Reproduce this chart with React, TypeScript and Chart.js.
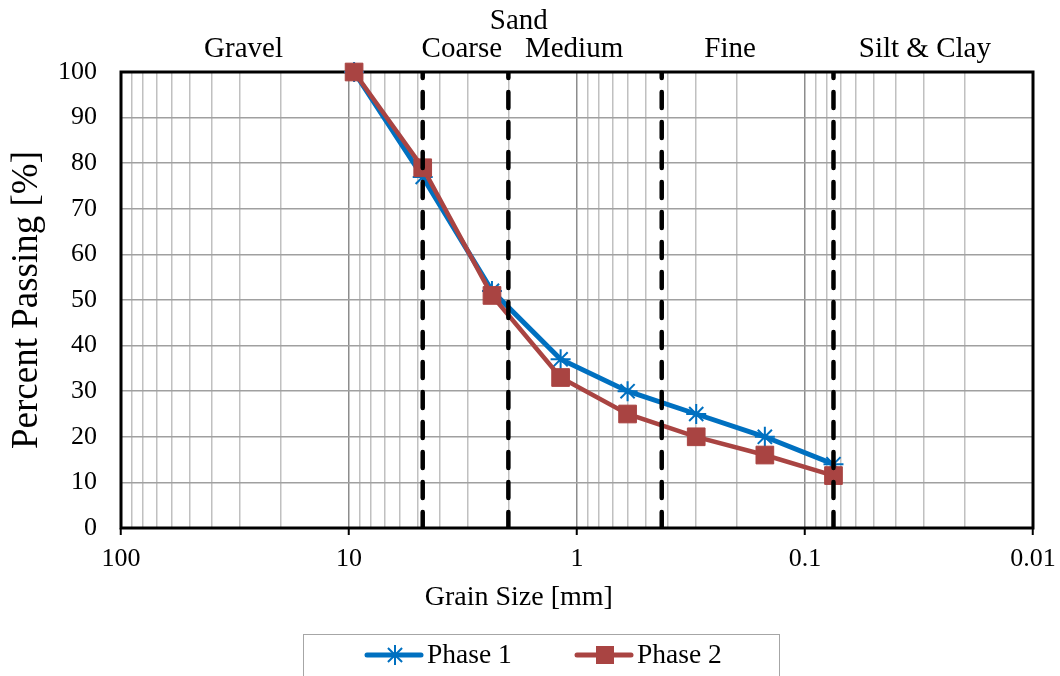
import React, { useEffect, useRef } from "react";
import { Chart, registerables } from "chart.js";

Chart.register(...registerables);

// ---- data ----
const sieveSizes = [9.5, 4.75, 2.36, 1.18, 0.6, 0.3, 0.15, 0.075];
const phase1 = [100, 77, 52, 37, 30, 25, 20, 14];
const phase2 = [100, 79, 51, 33, 25, 20, 16, 11.5];
const seriesNames = ["Phase 1", "Phase 2"];
const boundarySizes = [4.75, 2.0, 0.425, 0.075];
const xDecades = [100, 10, 1, 0.1, 0.01];
const yTickValues = [0, 10, 20, 30, 40, 50, 60, 70, 80, 90, 100];
const zoneLabels = ["Gravel", "Coarse", "Medium", "Fine", "Silt & Clay"];
const zoneAnchors = [29, 3.2, 1.03, 0.213, 0.0298];
const groupLabel = "Sand";
const groupAnchor = 1.8;
const xTitle = "Grain Size [mm]";
const xTitleAnchor = 1.8;
const yTitle = "Percent Passing [%]";

const BLUE = "#0070C0";
const RED = "#A94442";
const FONT = "'Liberation Serif', 'Times New Roman', serif";

const isDecade = (v: number) => Math.abs(Math.log10(v) - Math.round(Math.log10(v))) < 1e-9;

const allXTicks: number[] = [];
for (let e = -2; e <= 1; e++) {
  for (let m = 1; m <= 9; m++) allXTicks.push(m * Math.pow(10, e));
}
allXTicks.push(100);

const overlayPlugin = {
  id: "overlay",
  beforeDatasetsDraw(chart: any) {
    const { ctx, chartArea } = chart;
    ctx.save();
    ctx.strokeStyle = "#000";
    ctx.lineWidth = 3;
    ctx.strokeRect(chartArea.left, chartArea.top, chartArea.right - chartArea.left, chartArea.bottom - chartArea.top);
    ctx.restore();
  },
  afterDraw(chart: any) {
    const { ctx } = chart;
    const xs = chart.scales.x;
    ctx.save();
    ctx.fillStyle = "#000";
    ctx.textAlign = "center";
    ctx.textBaseline = "alphabetic";
    ctx.font = `29px ${FONT}`;
    zoneLabels.forEach((t, i) => {
      ctx.fillText(t, xs.getPixelForValue(zoneAnchors[i]), 57);
    });
    ctx.fillText(groupLabel, xs.getPixelForValue(groupAnchor), 29);

    // x axis title
    ctx.font = `28px ${FONT}`;
    ctx.textBaseline = "middle";
    ctx.fillText(xTitle, xs.getPixelForValue(xTitleAnchor), 598);

    // legend
    const bx = 303, by = 634, bw = 476, bh = 50;
    ctx.strokeStyle = "#a6a6a6";
    ctx.lineWidth = 1;
    ctx.strokeRect(bx + 0.5, by + 0.5, bw, bh);
    const items = [
      { x: 367, color: BLUE, marker: "star" },
      { x: 577, color: RED, marker: "rect" },
    ];
    const ly = 655;
    items.forEach((it, i) => {
      ctx.strokeStyle = it.color;
      ctx.lineWidth = 5;
      ctx.lineCap = "round";
      ctx.beginPath();
      ctx.moveTo(it.x, ly);
      ctx.lineTo(it.x + 54, ly);
      ctx.stroke();
      ctx.lineCap = "butt";
      const cx = it.x + 28;
      if (it.marker === "rect") {
        ctx.fillStyle = it.color;
        ctx.fillRect(cx - 9, ly - 9, 18, 18);
      } else {
        ctx.lineWidth = 2;
        const r = 10;
        ctx.beginPath();
        for (let k = 0; k < 4; k++) {
          const a = (k * Math.PI) / 4;
          ctx.moveTo(cx + r * Math.cos(a), ly + r * Math.sin(a));
          ctx.lineTo(cx - r * Math.cos(a), ly - r * Math.sin(a));
        }
        ctx.stroke();
      }
      ctx.fillStyle = "#000";
      ctx.textAlign = "left";
      ctx.textBaseline = "middle";
      ctx.font = `27.5px ${FONT}`;
      ctx.fillText(chart.data.datasets[i].label, it.x + 60, ly + 1);
    });
    ctx.restore();
  },
};

export default function App() {
  const ref = useRef<HTMLCanvasElement | null>(null);
  useEffect(() => {
    if (!ref.current) return;
    const series = [phase1, phase2];
    const datasets: any[] = series.map((vals, i) => ({
      label: seriesNames[i],
      data: sieveSizes.map((x, j) => ({ x, y: vals[j] })),
      showLine: true,
      borderColor: i === 0 ? BLUE : RED,
      backgroundColor: i === 0 ? BLUE : RED,
      borderWidth: i === 0 ? 5 : 4.5,
      pointStyle: i === 0 ? "star" : "rect",
      pointRadius: i === 0 ? 10 : 12.5,
      pointBorderWidth: i === 0 ? 2 : 1,
      pointBorderColor: i === 0 ? BLUE : RED,
      pointBackgroundColor: i === 0 ? BLUE : RED,
      order: i === 0 ? 2 : 1,
      clip: false,
    }));
    boundarySizes.forEach((b) => {
      datasets.push({
        label: "",
        data: [
          { x: b, y: 0 },
          { x: b, y: 100 },
        ],
        showLine: true,
        borderColor: "#000",
        borderWidth: 4.5,
        borderDash: [16, 14],
        borderCapStyle: "round",
        pointRadius: 0,
        order: 0,
      });
    });
    const chart = new Chart(ref.current, {
      type: "scatter",
      data: { datasets },
      plugins: [overlayPlugin],
      options: {
        responsive: false,
        animation: false,
        devicePixelRatio: 1,
        layout: { padding: { left: 0, top: 72, right: 27, bottom: 0 } },
        plugins: { legend: { display: false }, tooltip: { enabled: false } },
        scales: {
          x: {
            type: "logarithmic",
            reverse: true,
            min: 0.01,
            max: 100,
            afterBuildTicks: (s: any) => {
              s.ticks = allXTicks.map((v) => ({ value: v }));
            },
            afterFit: (s: any) => {
              s.height = 148;
            },
            border: { display: false },
            grid: {
              color: (c: any) => (c.tick && isDecade(c.tick.value) ? "#8c8c8c" : "#c0c0c0"),
              lineWidth: 1.5,
              tickLength: 7,
              tickColor: (c: any) => (c.tick && isDecade(c.tick.value) ? "#000" : "rgba(0,0,0,0)"),
              tickWidth: 2,
            },
            ticks: {
              autoSkip: false,
              maxRotation: 0,
              minRotation: 0,
              padding: 9,
              color: "#000",
              font: { family: FONT, size: 26 },
              callback: (v: any) => {
                const n = Number(v);
                return xDecades.some((d) => Math.abs(d - n) / d < 1e-9) ? String(Number(n.toPrecision(3))) : "";
              },
            },
          },
          y: {
            min: 0,
            max: 100,
            afterBuildTicks: (s: any) => {
              s.ticks = yTickValues.map((v) => ({ value: v }));
            },
            afterFit: (s: any) => {
              s.width = 121;
            },
            border: { display: false },
            grid: { color: "#a0a0a0", lineWidth: 1.5, drawTicks: false },
            ticks: {
              padding: 24,
              color: "#000",
              font: { family: FONT, size: 26 },
            },
            title: {
              display: true,
              text: yTitle,
              color: "#000",
              font: { family: FONT, size: 37 },
              padding: { top: 5, bottom: 0 },
            },
          },
        },
      },
    });
    return () => chart.destroy();
  }, []);
  return (
    <div style={{ position: "fixed", left: 0, top: 0, width: 1060, height: 676, background: "#fff" }}>
      <canvas ref={ref} width={1060} height={676} style={{ display: "block" }} />
    </div>
  );
}
